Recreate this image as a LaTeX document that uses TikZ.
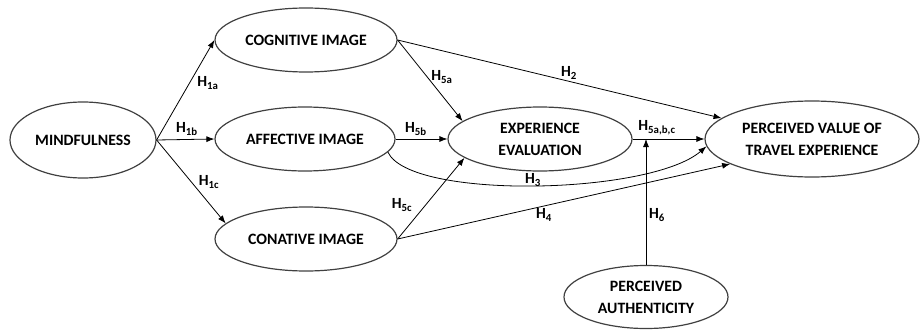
\documentclass[tikz,border=0pt]{standalone}
\usepackage{fontspec}
\setmainfont{Carlito}
\usetikzlibrary{shapes.geometric,arrows.meta}
\tikzset{
  x=1pt,y=1pt,
  ell/.style={ellipse,draw=black!75,line width=1.2pt,inner sep=0pt,align=center,
    font=\bfseries\fontsize{15.8}{22}\selectfont},
  arr/.style={-{Latex[length=8pt,width=6pt]},line width=0.8pt,black},
  lbl/.style={font=\bfseries\fontsize{15.5}{18}\selectfont,inner sep=0pt}
}
\begin{document}
\begin{tikzpicture}
\useasboundingbox (0,0) rectangle (920,-329);
% nodes
\node[ell,minimum width=146,minimum height=76] (mind) at (83,-140) {MINDFULNESS};
\node[ell,minimum width=182,minimum height=64] (cog) at (306,-40) {COGNITIVE IMAGE};
\node[ell,minimum width=180,minimum height=64] (aff) at (305,-139) {AFFECTIVE IMAGE};
\node[ell,minimum width=182,minimum height=64] (con) at (306,-239) {CONATIVE IMAGE};
\node[ell,minimum width=184,minimum height=64] (exp) at (540,-139) {EXPERIENCE\\EVALUATION};
\node[ell,minimum width=214,minimum height=76] (pv) at (812,-139) {PERCEIVED VALUE OF\\TRAVEL EXPERIENCE};
\node[ell,minimum width=164,minimum height=63] (auth) at (646,-297) {PERCEIVED\\AUTHENTICITY};
% connectors
\draw[arr] (mind.east) -- (cog.west);
\draw[arr] (mind.east) -- (aff.west);
\draw[arr] (mind.east) -- (con.169);
\draw[arr] (cog.east) -- (exp.167);
\draw[arr] (cog.east) -- (pv.167);
\draw[arr] (aff.east) -- (exp.west);
\draw[arr] (aff.-9) .. controls (410,-200) and (650,-195) .. (pv.184);
\draw[arr] (con.east) -- (exp.194);
\draw[arr] (con.east) -- (pv.197);
\draw[arr] (exp.east) -- (pv.west);
\coordinate (j) at (auth.north |- exp.east);
\draw[arr] (auth.north) -- (j);
% labels
\node[lbl] (l1a) at (208,-83) {H\textsubscript{1a}};
\node[lbl] (l1b) at (187,-129) {H\textsubscript{1b}};
\node[lbl] (l1c) at (209,-182) {H\textsubscript{1c}};
\node[lbl] (l5a) at (442,-77) {H\textsubscript{5a}};
\node[lbl] (l5b) at (416,-129) {H\textsubscript{5b}};
\node[lbl] (l5c) at (402,-205) {H\textsubscript{5c}};
\node[lbl] (l2) at (569,-73) {H\textsubscript{2}};
\node[lbl] (l3) at (533,-180) {H\textsubscript{3}};
\node[lbl] (l4) at (544,-215) {H\textsubscript{4}};
\node[lbl] (l6) at (657,-215) {H\textsubscript{6}};
\node[lbl] (l5abc) at (657,-128) {H\textsubscript{5a,b,c}};
\end{tikzpicture}
\end{document}
